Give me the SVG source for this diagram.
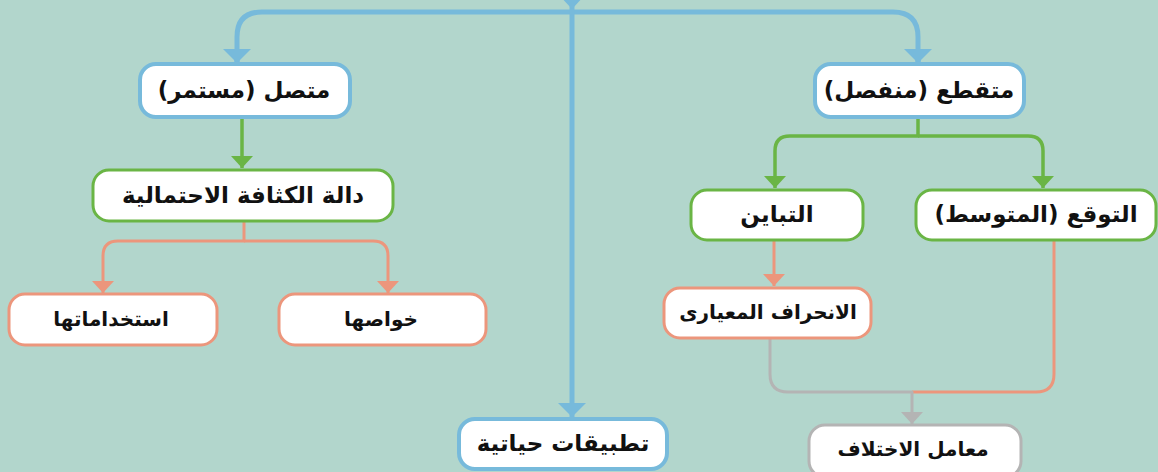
<svg xmlns="http://www.w3.org/2000/svg" width="1158" height="472" viewBox="0 0 1158 472">
<style>
.bg{fill:#b2d6cc}
.box{fill:#ffffff}
.bl{stroke:#77badb;stroke-width:4}
.gr{stroke:#6ab545;stroke-width:3}
.or{stroke:#ec967c;stroke-width:3}
.gy{stroke:#b4b4b4;stroke-width:3}
.c{fill:none;stroke-linecap:butt;stroke-linejoin:round}
.cb{stroke:#77badb;stroke-width:5}
.cg{stroke:#6ab545;stroke-width:3.5}
.co{stroke:#ec967c;stroke-width:3}
.cy{stroke:#b4b4b4;stroke-width:3}
text{font-family:"DejaVu Sans","Noto Sans",sans-serif;font-weight:bold;fill:#111;text-anchor:middle;dominant-baseline:central}
.t1{font-size:23px}
.t2{font-size:20px}
</style>
<defs>
<marker id="ab" markerUnits="userSpaceOnUse" markerWidth="30" markerHeight="16" refX="15" refY="14" viewBox="0 0 30 16"><path d="M1,0 H29 L15,14 Z" fill="#77badb"/></marker>
<marker id="ag" markerUnits="userSpaceOnUse" markerWidth="24" markerHeight="14" refX="12" refY="12" viewBox="0 0 24 14"><path d="M1,0 H23 L12,12 Z" fill="#6ab545"/></marker>
<marker id="ao" markerUnits="userSpaceOnUse" markerWidth="24" markerHeight="14" refX="12" refY="12" viewBox="0 0 24 14"><path d="M1,0 H23 L12,12 Z" fill="#ec967c"/></marker>
<marker id="ay" markerUnits="userSpaceOnUse" markerWidth="24" markerHeight="14" refX="12" refY="12" viewBox="0 0 24 14"><path d="M1,0 H23 L12,12 Z" fill="#b4b4b4"/></marker>
</defs>
<rect class="bg" x="0" y="0" width="1158" height="472"/>
<g id="connectors">
<path class="c cb" d="M237,63 V37 Q237,12 262,12 H893 Q918,12 918,37 V63" />
<path class="c cb" d="M237,50 V63" marker-end="url(#ab)"/>
<path class="c cb" d="M918,50 V63" marker-end="url(#ab)"/>
<path class="c cb" d="M572,-10 V417" marker-end="url(#ab)"/>
<polygon points="558,-6 586,-6 572,9" fill="#77badb"/>
<path class="c cg" d="M242,117 V168" marker-end="url(#ag)"/>
<path class="c cg" d="M918,117 V136 H790 Q775,136 775,151 V188" marker-end="url(#ag)"/>
<path class="c cg" d="M918,136 H1028 Q1043,136 1043,151 V188" marker-end="url(#ag)"/>
<path class="c co" d="M244,221 V241 H118 Q103,241 103,256 V293" marker-end="url(#ao)"/>
<path class="c co" d="M244,241 H373 Q388,241 388,256 V293" marker-end="url(#ao)"/>
<path class="c co" d="M774,240 V286" marker-end="url(#ao)"/>
<path class="c co" d="M1054,240 V374 Q1054,392 1036,392 H912"/>
<path class="c cy" d="M770,338 V374 Q770,392 788,392 H912 V424" marker-end="url(#ay)"/>
</g>
<g id="n-continuous"><rect class="box bl" x="140" y="64" width="210" height="53" rx="16"/><text class="t1" x="244" y="90" direction="rtl">متصل (مستمر)</text></g>
<g id="n-pdf"><rect class="box gr" x="93" y="170" width="300" height="51" rx="16"/><text class="t1" x="243" y="195" direction="rtl">دالة الكثافة الاحتمالية</text></g>
<g id="n-uses"><rect class="box or" x="9" y="294" width="208" height="51" rx="16"/><text class="t2" x="111" y="319" direction="rtl">استخداماتها</text></g>
<g id="n-props"><rect class="box or" x="279" y="294" width="207" height="51" rx="16"/><text class="t2" x="381" y="319" direction="rtl">خواصها</text></g>
<g id="n-apps"><rect class="box bl" x="459" y="419" width="208" height="50" rx="16"/><text class="t1" x="563" y="443" direction="rtl">تطبيقات حياتية</text></g>
<g id="n-discrete"><rect class="box bl" x="815" y="64" width="209" height="53" rx="16"/><text class="t1" x="919" y="90" direction="rtl">متقطع (منفصل)</text></g>
<g id="n-variance"><rect class="box gr" x="691" y="190" width="172" height="50" rx="16"/><text class="t1" x="777" y="214" direction="rtl">التباين</text></g>
<g id="n-expect"><rect class="box gr" x="916" y="190" width="240" height="50" rx="16"/><text class="t1" x="1036" y="214" direction="rtl">التوقع (المتوسط)</text></g>
<g id="n-sd"><rect class="box or" x="664" y="288" width="207" height="50" rx="16"/><text class="t2" x="768" y="312" direction="rtl">الانحراف المعيارى</text></g>
<g id="n-cv"><rect class="box gy" x="809" y="425" width="212" height="52" rx="16"/><text class="t2" x="913" y="449" direction="rtl">معامل الاختلاف</text></g>
</svg>
